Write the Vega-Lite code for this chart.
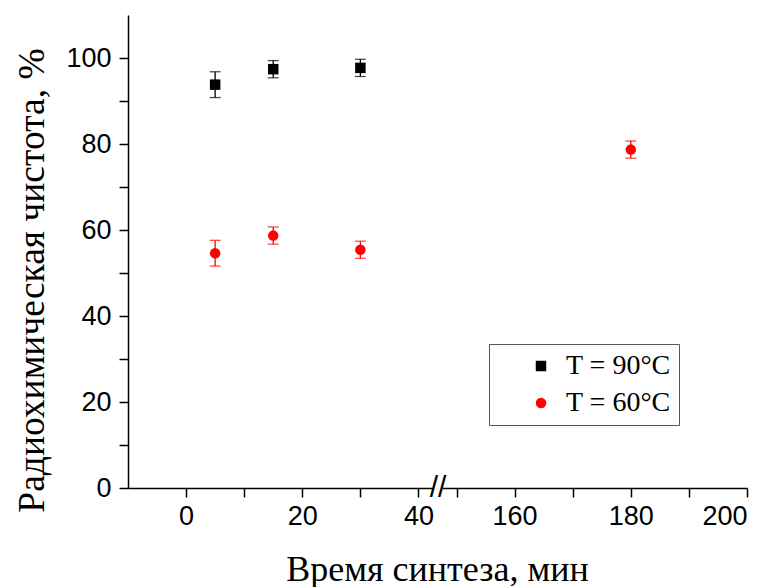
{
  "$schema": "https://vega.github.io/schema/vega-lite/v6.json",
  "background": "white",
  "padding": {"left": 12, "top": 15, "right": 5, "bottom": 0},
  "bounds": "flush",
  "config": {
    "view": {"stroke": null},
    "axis": {
      "domainColor": "#000000", "domainWidth": 1.5,
      "tickColor": "#000000", "tickWidth": 1.5, "tickSize": 9,
      "labelFont": "Liberation Sans", "labelFontSize": 27, "labelColor": "#000000",
      "titleFont": "Liberation Serif", "titleFontSize": 36, "titleFontWeight": "normal", "titleColor": "#000000",
      "grid": false
    },
    "concat": {"spacing": 9}
  },
  "datasets": {
    "pts": [
      {"t": 5, "purity": 93.8, "err": 3.0, "series": "T = 90°C"},
      {"t": 15, "purity": 97.4, "err": 2.0, "series": "T = 90°C"},
      {"t": 30, "purity": 97.7, "err": 2.0, "series": "T = 90°C"},
      {"t": 5, "purity": 54.6, "err": 3.0, "series": "T = 60°C"},
      {"t": 15, "purity": 58.7, "err": 2.0, "series": "T = 60°C"},
      {"t": 30, "purity": 55.4, "err": 2.0, "series": "T = 60°C"},
      {"t": 180, "purity": 78.7, "err": 2.0, "series": "T = 60°C"}
    ]
  },
  "resolve": {"legend": {"color": "independent", "shape": "independent"}},
  "hconcat": [
    {
      "width": 305,
      "height": 473,
      "data": {"name": "pts"},
      "transform": [{"filter": "datum.t < 100"}],
      "encoding": {
        "x": {
          "field": "t", "type": "quantitative",
          "scale": {"domain": [-10, 42.5], "nice": false, "zero": false},
          "axis": {
            "values": [0, 10, 20, 30, 40],
            "labelExpr": "datum.value % 20 === 0 ? datum.label : ''",
            "labelPadding": 6,
            "encode": {"ticks": {"y2": {"value": {"expr": "datum.value % 20 === 0 ? 9 : 5"}}}},
            "title": "Время синтеза, мин",
            "titleX": 309, "titleY": 92, "titleBaseline": "alphabetic", "titleAlign": "center"
          }
        },
        "y": {
          "field": "purity", "type": "quantitative",
          "scale": {"domain": [0, 110], "nice": false},
          "axis": {
            "values": [0, 10, 20, 30, 40, 50, 60, 70, 80, 90, 100],
            "labelExpr": "datum.value % 20 === 0 ? datum.label : ''",
            "labelPadding": 8,
            "encode": {"ticks": {"x2": {"value": {"expr": "datum.value % 20 === 0 ? -9 : -5"}}}},
            "title": "Радиохимическая чистота, %",
            "titleFontSize": 37.5,
            "titleX": -85, "titleY": 265, "titleBaseline": "alphabetic", "titleAlign": "center"
          }
        },
        "color": {
          "field": "series", "type": "nominal", "legend": null,
          "scale": {"domain": ["T = 90°C", "T = 60°C"], "range": ["#000000", "#ff0000"]}
        }
      },
      "layer": [
        {
          "mark": {"type": "errorbar", "ticks": true, "size": 11, "thickness": 1.3},
          "encoding": {"yError": {"field": "err"}}
        },
        {
          "mark": {"type": "point", "filled": true, "opacity": 1, "size": 110, "strokeWidth": 0},
          "encoding": {
            "shape": {
              "field": "series", "type": "nominal", "legend": null,
              "scale": {"domain": ["T = 90°C", "T = 60°C"], "range": ["square", "circle"]}
            }
          }
        }
      ]
    },
    {
      "width": 305,
      "height": 473,
      "layer": [
        {
          "data": {"name": "pts"},
          "transform": [{"filter": "datum.t > 100"}],
          "encoding": {
            "x": {
              "field": "t", "type": "quantitative",
              "scale": {"domain": [147.5, 200], "nice": false, "zero": false},
              "axis": {
                "values": [150, 160, 170, 180, 190, 200],
                "labelExpr": "datum.value % 20 === 0 ? datum.label : ''",
                "labelPadding": 6,
                "encode": {"ticks": {"y2": {"value": {"expr": "datum.value % 20 === 0 ? 9 : 5"}}}},
                "title": null
              }
            },
            "y": {
              "field": "purity", "type": "quantitative",
              "scale": {"domain": [0, 110], "nice": false},
              "axis": null
            },
            "color": {
              "field": "series", "type": "nominal",
              "scale": {"domain": ["T = 90°C", "T = 60°C"], "range": ["#000000", "#ff0000"]},
              "legend": {
                "title": null, "orient": "none", "legendX": 47, "legendY": 329,
                "fillColor": "white", "strokeColor": "#555555", "padding": 8,
                "symbolOffset": 30, "labelOffset": 11, "rowPadding": 9,
                "labelFont": "Liberation Serif", "labelFontSize": 28, "labelColor": "#000000",
                "symbolSize": 110, "symbolStrokeWidth": 0, "symbolOpacity": 1, "labelLimit": 0
              }
            }
          },
          "layer": [
            {
              "mark": {"type": "errorbar", "ticks": true, "size": 11, "thickness": 1.3},
              "encoding": {"yError": {"field": "err"}}
            },
            {
              "mark": {"type": "point", "filled": true, "opacity": 1, "size": 110, "strokeWidth": 0},
              "encoding": {
                "shape": {
                  "field": "series", "type": "nominal",
                  "scale": {"domain": ["T = 90°C", "T = 60°C"], "range": ["square", "circle"]},
                  "legend": {
                    "title": null, "orient": "none", "legendX": 47, "legendY": 329,
                    "fillColor": "white", "strokeColor": "#555555", "padding": 8,
                    "symbolOffset": 30, "labelOffset": 11, "rowPadding": 9,
                    "labelFont": "Liberation Serif", "labelFontSize": 28, "labelColor": "#000000",
                    "symbolSize": 110, "symbolStrokeWidth": 0, "symbolOpacity": 1, "labelLimit": 0
                  }
                }
              }
            }
          ]
        },
        {
          "data": {"values": [{}]},
          "mark": {"type": "text", "text": "//", "font": "Liberation Sans", "fontSize": 30, "dx": -4, "align": "center", "baseline": "middle", "color": "#000000"},
          "encoding": {
            "x": {"datum": 147.5, "type": "quantitative"},
            "y": {"datum": 0, "type": "quantitative"}
          }
        }
      ]
    }
  ]
}
